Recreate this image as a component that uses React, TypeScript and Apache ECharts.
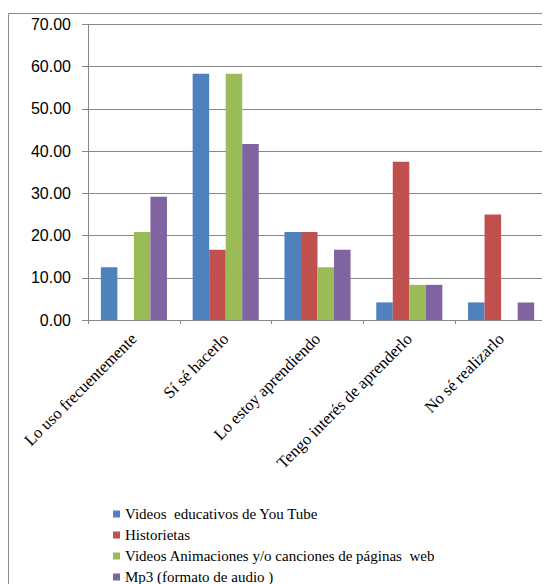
import React, { useEffect, useRef } from "react";
import * as echarts from "echarts";

// Survey answers per category, percentage of respondents
const categories = [
  "Lo uso frecuentemente",
  "Sí sé hacerlo",
  "Lo estoy aprendiendo",
  "Tengo interés de aprenderlo",
  "No sé realizarlo",
];

const seriesNames = [
  "Videos  educativos de You Tube",
  "Historietas",
  "Videos Animaciones y/o canciones de páginas  web",
  "Mp3 (formato de audio )",
];

const youTube = [12.5, 58.33, 20.83, 4.17, 4.17];
const historietas = [0, 16.67, 20.83, 37.5, 25.0];
const animaciones = [20.83, 58.33, 12.5, 8.33, 0];
const mp3 = [29.17, 41.67, 16.67, 8.33, 4.17];

const yTicks = { min: 0, max: 70, interval: 10 };

const colors = ["#4F81BD", "#C0504D", "#9BBB59", "#8064A2"];

export default function App() {
  const ref = useRef<HTMLDivElement>(null);

  useEffect(() => {
    if (!ref.current) return;
    const chart = echarts.init(ref.current, null, { renderer: "svg" });
    const values = [youTube, historietas, animaciones, mp3];
    chart.setOption({
      animation: false,
      color: colors,
      graphic: [
        {
          type: "rect",
          shape: { x: 0.5, y: 5.5, width: 560, height: 620 },
          style: { fill: "none", stroke: "#8a8a8a", lineWidth: 1 },
          silent: true,
        },
      ],
      grid: { left: 80, top: 16.5, right: 3, bottom: 264, containLabel: false },
      legend: {
        orient: "vertical",
        left: 105,
        top: 498,
        height: 120,
        padding: 0,
        icon: "rect",
        itemWidth: 7,
        itemHeight: 7,
        itemGap: 5,
        textStyle: {
          fontFamily: "Liberation Serif",
          fontSize: 15,
          color: "#000",
          lineHeight: 16,
        },
        data: seriesNames,
      },
      xAxis: {
        type: "category",
        data: categories,
        axisLine: { lineStyle: { color: "#868686", width: 1 } },
        axisTick: { show: true, length: 4, lineStyle: { color: "#868686" } },
        axisLabel: {
          rotate: 45,
          interval: 0,
          margin: 16,
          fontFamily: "Liberation Serif",
          fontSize: 16.5,
          color: "#000",
        },
      },
      yAxis: {
        type: "value",
        min: yTicks.min,
        max: yTicks.max,
        interval: yTicks.interval,
        axisLine: { show: true, lineStyle: { color: "#868686", width: 1 } },
        axisTick: { show: true, length: 6, lineStyle: { color: "#868686" } },
        splitLine: { lineStyle: { color: "#868686", width: 1 } },
        axisLabel: {
          margin: 17,
          fontFamily: "Liberation Sans",
          fontSize: 16,
          color: "#000",
          formatter: (v: number) => v.toFixed(2),
        },
      },
      series: seriesNames.map((name, i) => ({
        name,
        type: "bar",
        data: values[i],
        barGap: "0%",
        barCategoryGap: "28%",
      })),
    });
    return () => chart.dispose();
  }, []);

  return <div ref={ref} style={{ width: 542, height: 576 }} />;
}
